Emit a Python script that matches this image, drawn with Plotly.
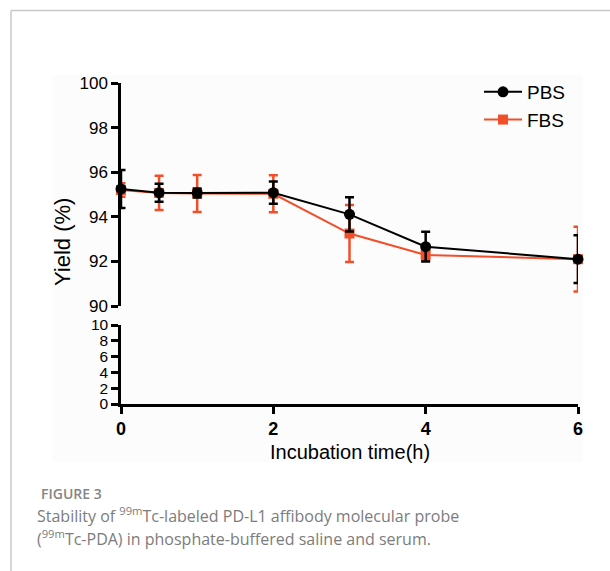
import plotly.graph_objects as go

# ---- data ----
time_h = [0, 0.5, 1, 2, 3, 4, 6]
pbs_mean = [95.25, 95.08, 95.07, 95.08, 94.11, 92.66, 92.10]
pbs_sd = [0.85, 0.40, 0.20, 0.50, 0.77, 0.67, 1.07]
fbs_mean = [95.20, 95.07, 95.05, 95.03, 93.25, 92.29, 92.10]
fbs_sd = [0.30, 0.77, 0.83, 0.83, 1.28, 0.25, 1.45]
x_ticks = [0, 2, 4, 6]
y_upper_ticks = [90, 92, 94, 96, 98, 100]
y_lower_ticks = [0, 2, 4, 6, 8, 10]

W, H = 610, 571
def px(x):
    return x / W
def py(y):
    return 1 - y / H

BLACK = "#000000"
RED = "#f24e2a"
AX_FONT = "Liberation Sans, Arial, sans-serif"

fig = go.Figure()

fig.add_trace(go.Scatter(
    x=time_h, y=fbs_mean, name="FBS", mode="lines+markers",
    line=dict(color=RED, width=2),
    marker=dict(symbol="square", size=10, color=RED),
    error_y=dict(type="data", array=fbs_sd, visible=True, color=RED, thickness=2.5, width=4.5),
    cliponaxis=False, legendrank=2, xaxis="x", yaxis="y",
))
fig.add_trace(go.Scatter(
    x=time_h, y=pbs_mean, name="PBS", mode="lines+markers",
    line=dict(color=BLACK, width=2),
    marker=dict(symbol="circle", size=11, color=BLACK),
    error_y=dict(type="data", array=pbs_sd, visible=True, color=BLACK, thickness=2.5, width=4.5),
    cliponaxis=False, legendrank=1, xaxis="x", yaxis="y",
))
# empty trace so the lower (broken) panel of the y axis is drawn
fig.add_trace(go.Scatter(x=[None], y=[None], xaxis="x", yaxis="y2",
                         showlegend=False, hoverinfo="skip"))

axis_common = dict(
    showline=True, linecolor=BLACK, linewidth=2.5, showgrid=False, zeroline=False,
    ticks="outside", ticklen=7, tickwidth=2.5, tickcolor=BLACK, automargin=False,
)

fig.update_layout(
    width=W, height=H,
    autosize=False,
    margin=dict(l=0, r=0, t=0, b=0, pad=0, autoexpand=False),
    paper_bgcolor="white", plot_bgcolor="rgba(0,0,0,0)",
    font=dict(family=AX_FONT, color=BLACK),
    xaxis=dict(domain=[px(121), px(578)], range=[0, 6], anchor="y2",
               tickvals=x_ticks, tickfont=dict(size=18, weight="bold", color=BLACK),
               **axis_common),
    yaxis=dict(domain=[py(306), py(83)], range=[90, 100], anchor="x",
               tickvals=y_upper_ticks, tickfont=dict(size=17, color=BLACK), **axis_common),
    yaxis2=dict(domain=[py(404), py(325)], range=[0, 10], anchor="x",
                tickvals=y_lower_ticks, tickfont=dict(size=15.5, color=BLACK), **axis_common),
    showlegend=True,
    legend=dict(x=px(479), y=py(73), xanchor="left", yanchor="top",
                font=dict(size=19, color=BLACK, family=AX_FONT), itemwidth=38,
                bgcolor="rgba(0,0,0,0)", borderwidth=0, tracegroupgap=0),
    shapes=[
        dict(type="rect", xref="paper", yref="paper", x0=px(52), x1=px(583), y0=py(462), y1=py(75),
             fillcolor="#fcfcfc", line=dict(width=0), layer="below"),
        dict(type="line", xref="paper", yref="paper", x0=px(11), x1=px(11), y0=0, y1=py(10.5),
             line=dict(color="#c8c8c8", width=1.5)),
        dict(type="line", xref="paper", yref="paper", x0=px(11), x1=1, y0=py(10.5), y1=py(10.5),
             line=dict(color="#c8c8c8", width=1.5)),
    ],
    annotations=[
        dict(text="Yield (%)", xref="paper", yref="paper", x=px(62), y=py(242),
             showarrow=False, textangle=-90, font=dict(size=22, color=BLACK, family=AX_FONT),
             xanchor="center", yanchor="middle"),
        dict(text="Incubation time(h)", xref="paper", yref="paper", x=px(350), y=py(452),
             showarrow=False, font=dict(size=20, color=BLACK, family=AX_FONT),
             xanchor="center", yanchor="middle"),
        dict(text="FIGURE 3", xref="paper", yref="paper", x=px(39), y=py(493),
             showarrow=False, font=dict(size=14, color="#858585", family="Open Sans", weight=600),
             xanchor="left", yanchor="middle"),
        dict(text="Stability of <sup>99m</sup>Tc-labeled PD-L1 affibody molecular probe",
             xref="paper", yref="paper", x=px(35), y=py(515),
             showarrow=False, font=dict(size=16, color="#7c7c7c", family="Open Sans"),
             xanchor="left", yanchor="middle"),
        dict(text="(<sup>99m</sup>Tc-PDA) in phosphate-buffered saline and serum.",
             xref="paper", yref="paper", x=px(35), y=py(538),
             showarrow=False, font=dict(size=16, color="#7c7c7c", family="Open Sans"),
             xanchor="left", yanchor="middle"),
    ],
)

fig.write_html("out.html", config={"displayModeBar": False},
               post_script="document.body.style.margin='0px';")
